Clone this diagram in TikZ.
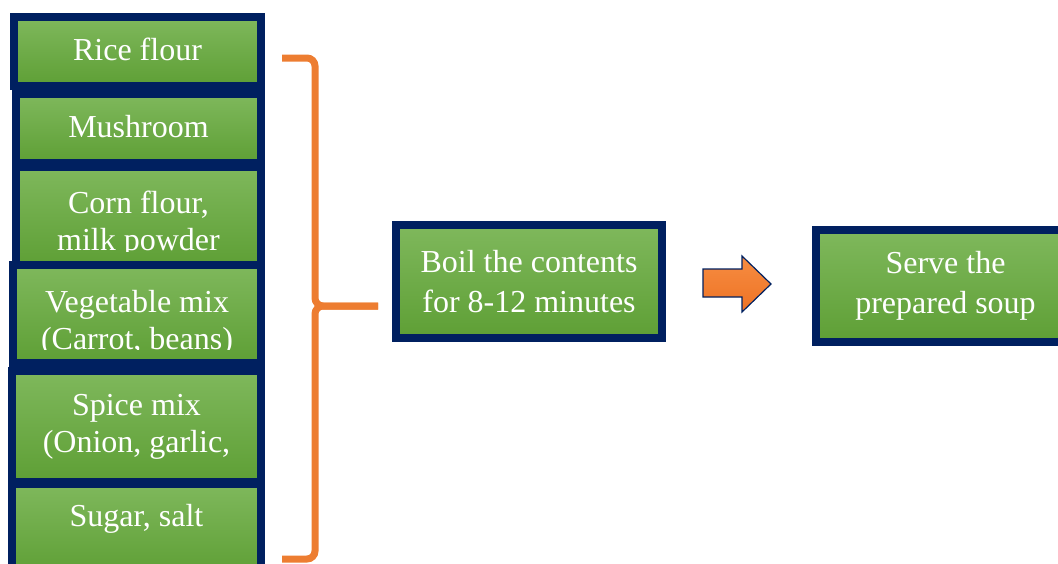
\documentclass[tikz,border=0pt]{standalone}
\usepackage{fontspec}
\setmainfont{Liberation Serif}
\definecolor{navy}{HTML}{002060}
\definecolor{greenTop}{HTML}{7FB85C}
\definecolor{greenBot}{HTML}{5E9F35}
\definecolor{braceOrange}{HTML}{ED7D31}
\definecolor{arrowTop}{HTML}{F68D42}
\definecolor{arrowBot}{HTML}{EE7224}
\tikzset{
    stepbox/.style={draw=navy, line width=4pt, top color=greenTop, bottom color=greenBot,
        text=white, inner sep=0pt, align=center, font=\fontsize{16}{18.5}\selectfont},
    steptext/.style={text=white, inner sep=0pt, align=center, font=\fontsize{16}{18.5}\selectfont},
    bigbox/.style={stepbox, font=\fontsize{16}{20}\selectfont},
    brace/.style={draw=braceOrange, line width=3.5pt, rounded corners=4pt},
    blockarrow/.style={draw=navy, line width=0.6pt, top color=arrowTop, bottom color=arrowBot}
}
\begin{document}
\begin{tikzpicture}[x=0.5pt, y=-0.5pt]
    \clip (0,0) rectangle (1058,563);
    % Ingredient boxes, top to bottom
    \node[stepbox, minimum width=123.5pt, minimum height=34.5pt] (rice) at (137.5,51.5) {};
    \node[steptext] (riceText) at (137.5,49.5) {Rice flour};
    \node[stepbox, minimum width=122.5pt, minimum height=34.5pt] (mushroom) at (138.5,128.5) {};
    \node[steptext] (mushroomText) at (138.5,127) {Mushroom};
    \node[stepbox, minimum width=122.5pt, minimum height=49.5pt] (corn) at (138.5,216.5) {};
    \begin{scope}
        \clip (18,171) rectangle (257,251);
        \node[steptext] (cornText) at (138.5,224) {Corn flour,\\milk powder};
    \end{scope}
    \node[stepbox, minimum width=124pt, minimum height=49pt] (veg) at (137,314) {};
    \begin{scope}
        \clip (17,269) rectangle (257,349);
        \node[steptext] (vegText) at (137,323) {Vegetable mix\\(Carrot, beans)};
    \end{scope}
    \node[stepbox, minimum width=124.5pt, minimum height=55.5pt] (spice) at (136.5,426.5) {Spice mix\\(Onion, garlic,};
    \node[stepbox, minimum width=124.5pt, minimum height=45.5pt] (sugar) at (136.5,529.5) {};
    \node[steptext] (sugarText) at (136.5,519) {Sugar, salt};
    % Brace gathering the ingredients
    \coordinate (braceTip) at (378,306);
    \draw[brace] (282,58) -| (315,306) -- (braceTip);
    \draw[brace] (braceTip) -- (315,306) |- (282,559);
    % Cooking and serving
    \node[bigbox, minimum width=133pt, minimum height=56.5pt] (boil) at (529,281.5) {Boil the contents\\for 8-12 minutes};
    \draw[blockarrow] (703,269) -- (742,269) -- (742,256) -- (771,284) -- (742,312) -- (742,297) -- (703,297) -- cycle;
    \node[bigbox, minimum width=129.5pt, minimum height=56pt] (serve) at (945.5,286) {Serve the\\prepared soup};
\end{tikzpicture}
\end{document}
